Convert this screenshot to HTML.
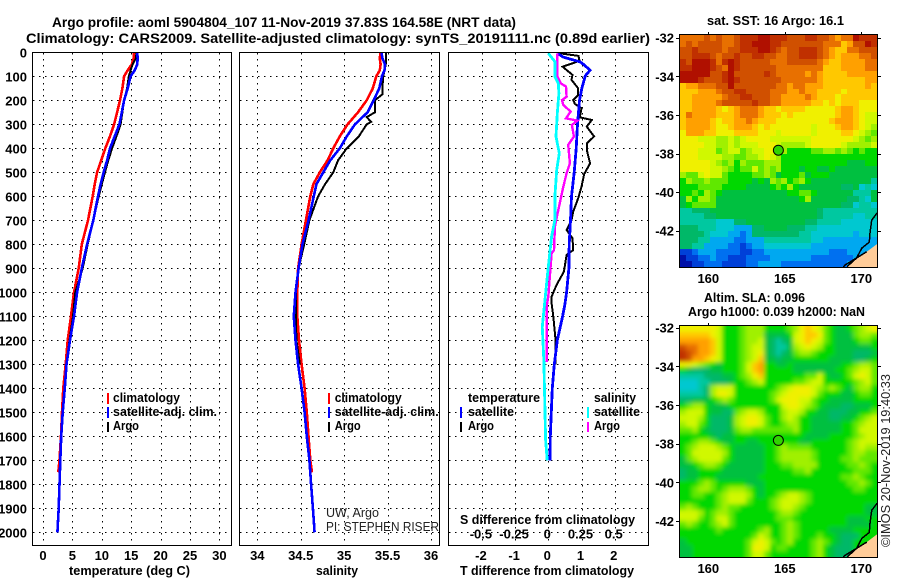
<!DOCTYPE html>
<html lang="en">
<head>
<meta charset="utf-8">
<title>Argo profile</title>
<style>
html,body{margin:0;padding:0;background:#fff;}
svg{display:block;}
text{font-family:"Liberation Sans",sans-serif;fill:#000;}
.b{font-size:13px;font-weight:bold;}
.t{font-size:13.5px;font-weight:bold;}
.r{font-size:12.5px;fill:#222;}
</style>
</head>
<body>
<svg id="chart" width="900" height="580" viewBox="0 0 900 580" xmlns="http://www.w3.org/2000/svg">
<defs>
<filter id="sla-smooth" x="-10%" y="-10%" width="120%" height="120%"><feGaussianBlur stdDeviation="2.2"/></filter>
<clipPath id="sst-map-clip"><rect x="680" y="35" width="197" height="232"/></clipPath>
<clipPath id="sla-map-clip"><rect x="680" y="326" width="197" height="231"/></clipPath>
</defs>
<rect width="900" height="580" fill="#fff"/>
<text class="t" x="52" y="27" textLength="464" lengthAdjust="spacingAndGlyphs">Argo profile: aoml 5904804_107 11-Nov-2019 37.83S 164.58E (NRT data)</text>
<text class="t" x="26" y="43" textLength="624" lengthAdjust="spacingAndGlyphs">Climatology: CARS2009. Satellite-adjusted climatology: synTS_20191111.nc (0.89d earlier)</text>

<g id="grids"></g>
<g id="lines"></g>
<g id="ticks"></g>

<rect x="32.5" y="52.5" width="199" height="493" fill="none" stroke="#000" shape-rendering="crispEdges"/>
<rect x="239.5" y="52.5" width="200" height="493" fill="none" stroke="#000" shape-rendering="crispEdges"/>
<rect x="448.5" y="52.5" width="200" height="493" fill="none" stroke="#000" shape-rendering="crispEdges"/>

<text class="b" x="69" y="575" textLength="121" lengthAdjust="spacingAndGlyphs">temperature (deg C)</text>
<text class="b" x="316" y="575" textLength="42" lengthAdjust="spacingAndGlyphs">salinity</text>
<text class="b" x="460" y="575" textLength="174" lengthAdjust="spacingAndGlyphs">T difference from climatology</text>
<text class="b" x="460" y="524" textLength="175" lengthAdjust="spacingAndGlyphs">S difference from climatology</text>

<g>
<rect x="107" y="393" width="2" height="11" fill="#f00"/>
<text class="b" x="113" y="402" textLength="67" lengthAdjust="spacingAndGlyphs">climatology</text>
<rect x="107" y="407" width="2" height="11" fill="#00f"/>
<text class="b" x="113" y="416" textLength="104" lengthAdjust="spacingAndGlyphs">satellite-adj. clim.</text>
<rect x="107" y="422" width="2" height="10" fill="#000"/>
<text class="b" x="113" y="430" textLength="26" lengthAdjust="spacingAndGlyphs">Argo</text>
</g>
<g>
<rect x="328" y="393" width="2" height="11" fill="#f00"/>
<text class="b" x="334.7" y="402" textLength="67" lengthAdjust="spacingAndGlyphs">climatology</text>
<rect x="328" y="407" width="2" height="11" fill="#00f"/>
<text class="b" x="334.7" y="416" textLength="104" lengthAdjust="spacingAndGlyphs">satellite-adj. clim.</text>
<rect x="328" y="422" width="2" height="10" fill="#000"/>
<text class="b" x="334.7" y="430" textLength="26" lengthAdjust="spacingAndGlyphs">Argo</text>
</g>
<text class="r" x="326" y="517" textLength="53" lengthAdjust="spacingAndGlyphs">UW, Argo</text>
<text class="r" x="326" y="531" textLength="113" lengthAdjust="spacingAndGlyphs">PI: STEPHEN RISER</text>

<g>
<text class="b" x="468" y="402" textLength="72" lengthAdjust="spacingAndGlyphs">temperature</text>
<rect x="460" y="407" width="2" height="11" fill="#00f"/>
<text class="b" x="468" y="416" textLength="46" lengthAdjust="spacingAndGlyphs">satellite</text>
<rect x="460" y="422" width="2" height="10" fill="#000"/>
<text class="b" x="468" y="430" textLength="26" lengthAdjust="spacingAndGlyphs">Argo</text>
<text class="b" x="594" y="402" textLength="42" lengthAdjust="spacingAndGlyphs">salinity</text>
<rect x="587" y="407" width="2" height="11" fill="#0ff"/>
<text class="b" x="594" y="416" textLength="46" lengthAdjust="spacingAndGlyphs">satellite</text>
<rect x="587" y="422" width="2" height="10" fill="#f0f"/>
<text class="b" x="594" y="430" textLength="26" lengthAdjust="spacingAndGlyphs">Argo</text>
</g>

<text class="b" x="707" y="25" textLength="137" lengthAdjust="spacingAndGlyphs">sat. SST: 16 Argo: 16.1</text>
<text class="b" x="704" y="302" textLength="101" lengthAdjust="spacingAndGlyphs">Altim. SLA: 0.096</text>
<text class="b" x="688" y="316" textLength="177" lengthAdjust="spacingAndGlyphs">Argo h1000: 0.039 h2000: NaN</text>
<g id="maps"></g>
<text class="r" transform="translate(890 547) rotate(-90)" x="0" y="0" textLength="173" lengthAdjust="spacingAndGlyphs" style="font-size:13px;">©IMOS 20-Nov-2019 19:40:33</text>
</svg>

<script>
// ---------- profile data ----------
const climDepths = [0,25,50,75,100,150,200,250,300,350,400,450,500,550,600,700,800,900,1000,1100,1200,1300,1400,1500,1600,1700,1750];
const tempClim = [15.5,15.4,15.1,14.4,13.8,13.5,13.1,12.6,12.1,11.4,10.6,9.9,9.2,8.8,8.45,7.65,6.6,6.07,5.27,4.76,4.2,3.86,3.45,3.23,3.06,2.8,2.6];
const salClim = [35.42,35.41,35.42,35.41,35.37,35.33,35.26,35.16,35.04,34.95,34.875,34.81,34.72,34.645,34.61,34.56,34.51,34.47,34.46,34.46,34.48,34.51,34.545,34.57,34.59,34.61,34.63];

const satDepths = [0,25,50,75,100,150,200,250,300,350,400,450,500,550,600,700,800,900,1000,1100,1200,1300,1400,1500,1600,1700,1800,1900,2000];
const tempSat = [16.04,16.08,16.04,15.6,14.9,14.4,13.8,13.4,13,12.2,11.4,10.9,10.3,9.8,9.35,8.55,7.5,6.6,5.8,5.27,4.6,4.0,3.7,3.35,3.1,2.95,2.8,2.67,2.45];
const salSat = [35.43,35.44,35.47,35.465,35.435,35.405,35.34,35.27,35.125,35.03,34.95,34.84,34.76,34.68,34.65,34.59,34.52,34.475,34.44,34.42,34.44,34.47,34.51,34.545,34.57,34.6,34.62,34.64,34.66];

const argoDepths = [0,25,50,75,100,150,200,250,300,350,400,450,500,550,600,700,800,900,1000,1100,1200,1300];
const tempArgo = [15.9,15.8,15.25,14.9,14.6,14.3,13.8,13.5,13.2,12.5,11.75,11.1,10.55,10,9.47,8.55,7.6,6.75,5.5,5.1,4.5,4.0];
const salArgoDepths = [0,50,100,150,175,200,250,270,290,300,350,400,450,500,550,600,700,800,900,1000,1100,1200,1300];
const salArgo = [35.48,35.48,35.45,35.44,35.44,35.355,35.355,35.26,35.31,35.26,35.17,35.03,34.93,34.875,34.78,34.7,34.6,34.54,34.475,34.445,34.445,34.45,34.49];

const diffTempSatDepths = [4,20,40,50,75,90,100,150,200,300,400,500,600,700,800,900,1000,1050,1100,1200,1300,1400,1500,1600,1700];
const diffTempSat = [.27,.45,.96,1.06,1.26,1.16,1.11,1.01,.94,.88,.84,.78,.7,.67,.63,.62,.55,.5,.43,.27,.18,.12,.09,.06,.05];
const diffTempArgoDepths = [4,15,36,60,94,115,150,178,199,215,233,271,282,310,351,379,407,463,507,560,608,664,699,740,775,824,844,914,969,1018,1046,1100,1200,1300];
const diffTempArgo = [.35,.91,.94,.43,.73,.7,.9,.9,.75,.8,1,.95,1.31,1.16,1.38,1.16,1.16,1.26,1.08,1,.9,.75,.7,.55,.73,.75,.55,.47,.25,.1,.1,.15,.22,.22];
const diffSalSatDepths = [4,39,101,129,171,254,351,421,490,601,699,768,851,963,1060,1100,1145,1290,1500,1615,1700];
const diffSalSat = [0,.05,.05,.075,.08,.068,.058,.083,.063,.05,.05,.025,.008,-.013,-.03,-.038,-.045,-.033,-.025,-.02,-.008];
const diffSalArgoDepths = [4,101,129,143,185,199,219,247,275,285,303,351,386,463,504,560,657,726,824,838,1018,1060,1200,1290];
const diffSalArgo = [.068,.068,.093,.133,.138,.103,.113,.168,.133,.218,.178,.193,.15,.163,.138,.113,.075,.05,.043,.025,0,-.013,-.013,-.013];

// ---------- tick labels ----------
const depthTicks = [0,100,200,300,400,500,600,700,800,900,1000,1100,1200,1300,1400,1500,1600,1700,1800,1900,2000];
const tempTicks = [0,5,10,15,20,25,30];
const salTicks = [34,34.5,35,35.5,36];
const diffTTicks = [-2,-1,0,1,2];
const diffSTicks = [-0.5,-0.25,0,0.25,0.5];
const lonTicks = [160,165,170];
const latTicks = [-32,-34,-36,-38,-40,-42];

// ---------- map data (colour level per cell, base-19 code) ----------
const sstRows = [
"ffffgfgffghhhiihhhggghhggfeffihhh",
"fgfggggffghhiiihhgggggggfffdeggih",
"gghggggfgghhhiihgfgghhhgfeddffggg",
"gghhhgfgghgghhggffgghhhgfedeeeffg",
"hgiiihfhihgggggfffgggggfeddeeeeff",
"hhiiihgfihggggggffffffffdddeeeeff",
"iiiiigghiggggghgfffffefeddddeeeee",
"iiihggghihgggggggffffffedddddddee",
"deefffggigggggggffeffeeeddddddded",
"dddeeefgghhggggfffeefeeddddcddddd",
"ddeeeeefgghhgggffeeeefedddcdddddd",
"ddeeeefggggghggffeeeeeddcdcdddccc",
"ddeeeedcdefffeddcddddcccccdeedccc",
"dfeeeedddefffedddcdcccccccdeedcbb",
"deeeedcddeefedddcccccccccdeeedcbb",
"deeeedccdeeedcdcccccccbcccdeedcba",
"ceeeddcccddddcccbcccccbccccddcba9",
"cccbbbaababccccbbbbbbbcccccccba9a",
"ccccbbaababbbcccbaaaabcccccbaaaab",
"cccbbb9abb9abbccba888899aa9a98988",
"cccbbbbaa99aabcba8888888888888888",
"cccccba9a8a999aaa8888888888877788",
"cccccbba9899b9a9a8887887787777777",
"a99bcbb9888899a978889788877777777",
"8a99a9998888787a9a89a877777777775",
"888999988887777898a87777777667454",
"8898a98777777777778899877777755574",
"7a8aa9777777777777778a77777766547",
"789999777777777777777777777664554",
"556667777777777777777776555555555",
"555566777777777777777776555554455",
"555555444667777777777665555444444",
"666555444333667777666554444444444",
"666654443323666666665544444443444",
"666553333223335555555544333333333",
"665533332212334444444433333333333",
"112333222211223333333333322233334",
"011223221112222333333322222223344",
"001122211112233332222222222233444"
];
const slaRows = [
"ccccccb8889aaa88889acdcb987789abc",
"dddddcb8889aaa77778bcddc987779aa9",
"eeeeedb8889aab76567bcdcb987778998",
"gffeedb8889abb76557abcba887777778",
"hgfeedb8889abc765679aa98887776667",
"hgeedcb8889abd7767788888877776678",
"ccba9878889bde8877877777777889aa9",
"87666778889bde888887777777889abb9",
"55556667789acd888888899b87789bcb9",
"444556667889ab8888899abb888889ab9",
"44456abbb88888889abcccba9a9879aa8",
"55556accb8888889abccccb9888778998",
"6677789a98888889bcccbb98877778888",
"89aa8777888888888bccba98777667778",
"abbb877669abba888abba887766677889",
"bbba86667abccb988aba8877766778 9ab".replace(' ',''),
"abb986667abccb9889aa8877777889ab",
"99a8766679aa9999999a8877777889bb",
"888887677888888888888777788889abb",
"889aa987788778888888778888889abb",
"89abbba98777778 89a99998888889aba".replace(' ',''),
"89bbbbba87777788 9aaaaa988888 9aa9".replace(/ /g,''),
"79abbbb987777788 9aaaaa98888 99a99".replace(/ /g,''),
"7789aa98777777888 99aaaa8888899a98".replace(/ /g,''),
"67788887777777888 8899a88888889998".replace(/ /g,''),
"677888777777788888888888888 99a988".replace(/ /g,''),
"8889a9888887778888888888 888899a98".replace(/ /g,''),
"889aa989aaa98788888888888888899888",
"8899889abbba87889abba988888888888",
"8888889abbb98889abbba988888888888",
"9a98889a99888889abba9888888888877",
"bbba89aa988888889aa98888888888877",
"bbb989bb988888889998888888887778",
"9a9889ab9888888889a98888888877778",
"88888898888889a889a98888877778888",
"8888888888889ba889a98889887666888",
"788888888889bcb989a8889a987668888",
"778888888889ccb89988889a876668888",
"778888888889bb988888889a876668888"
];
const coastLons = [171.03,170.68,170.57,170.52,170.03,169.7,168.93,168.82];
const coastLats = [-41.08,-41.45,-42.12,-42.59,-42.9,-43.41,-43.78,-43.9];
const landLons = [171.03,170.35,169.7,169.07,169.07,171.03];
const landLats = [-42.69,-43.09,-43.41,-43.86,-43.9,-43.9];
const landEdgeLons = [170.35,169.7,169.07];
const landEdgeLats = [-43.09,-43.41,-43.86];
const floatLon = 164.58;
const floatLat = -37.83;

// ---------- colour scale ----------
const mapPalette = ["#0010a8","#0040d8","#0070f0","#00a8f0","#00c8d0","#00c8a0","#00b868","#00c040","#00d800","#60e800","#a0f000","#d0f800","#f0f000","#ffc800","#ffa000","#e87000","#d05000","#c03000","#b01000"];

// ---------- axis functions ----------
const depthY = d => 52.3 + d * 0.24;
const tempX = v => 43 + v * 5.88;
const salX = v => 257.3 + (v - 34) * 86.85;
const diffTX = v => 548.3 + v * 33.2;
const diffSX = v => 548.3 + v * 132.8;
const lonX = lon => 708.3 + (lon - 160) * 15.3;
const NS = "http://www.w3.org/2000/svg";
const gridG = document.getElementById('grids');
const lineG = document.getElementById('lines');
const tickG = document.getElementById('ticks');
const mapG = document.getElementById('maps');

function gridLine(x1, y1, x2, y2) {
  const el = document.createElementNS(NS, 'line');
  
  
  el.setAttribute('x1', x1); el.setAttribute('y1', y1);
  el.setAttribute('x2', x2); el.setAttribute('y2', y2);
  el.setAttribute('stroke', '#000');
  el.setAttribute('stroke-dasharray', '1.3 4.7');
  el.setAttribute('shape-rendering', 'crispEdges');
  gridG.appendChild(el);
}
function label(parent, str, x, y, anchor, name) {
  const el = document.createElementNS(NS, 'text');
  
  
  el.setAttribute('class', 'b');
  el.setAttribute('x', x); el.setAttribute('y', y);
  el.setAttribute('text-anchor', anchor);
  el.textContent = str;
  parent.appendChild(el);
}
function profile(depths, values, xf, color, width, name) {
  const el = document.createElementNS(NS, 'polyline');
  
  
  el.setAttribute('points', depths.map((d, i) => xf(values[i]).toFixed(1) + ',' + depthY(d).toFixed(1)).join(' '));
  el.setAttribute('fill', 'none');
  el.setAttribute('stroke', color);
  el.setAttribute('stroke-width', width);
  el.setAttribute('shape-rendering', 'crispEdges');
  lineG.appendChild(el);
}

// grids and tick labels
const panels = [[33, 231], [240, 439], [449, 648]];
panels.forEach(p => depthTicks.forEach(d => gridLine(p[0], Math.round(depthY(d)) + .5, p[1], Math.round(depthY(d)) + .5)));
tempTicks.forEach(v => gridLine(Math.round(tempX(v)) + .5, 53, Math.round(tempX(v)) + .5, 545));
salTicks.forEach(v => gridLine(Math.round(salX(v)) + .5, 53, Math.round(salX(v)) + .5, 545));
diffTTicks.forEach(v => gridLine(Math.round(diffTX(v)) + .5, 53, Math.round(diffTX(v)) + .5, 545));
depthTicks.forEach(d => label(tickG, String(d), 27, depthY(d) + 5, 'end', 'depth-tick-label'));
tempTicks.forEach(v => label(tickG, String(v), tempX(v), 560, 'middle', 'temperature-tick-label'));
salTicks.forEach(v => label(tickG, String(v), salX(v), 560, 'middle', 'salinity-tick-label'));
diffTTicks.forEach(v => label(tickG, String(v), diffTX(v) - 1, 560, 'middle', 't-difference-tick-label'));
diffSTicks.forEach(v => label(tickG, String(v), diffSX(v) - 1, 538.5, 'middle', 's-difference-tick-label'));

// profile lines
profile(climDepths, tempClim, tempX, '#f00', 2.6, 'temperature-climatology-line');
profile(argoDepths, tempArgo, tempX, '#000', 2, 'temperature-argo-line');
profile(satDepths, tempSat, tempX, '#00f', 2.6, 'temperature-satellite-line');
profile(climDepths, salClim, salX, '#f00', 2.6, 'salinity-climatology-line');
profile(salArgoDepths, salArgo, salX, '#000', 2, 'salinity-argo-line');
profile(satDepths, salSat, salX, '#00f', 2.6, 'salinity-satellite-line');
profile(diffTempArgoDepths, diffTempArgo, diffTX, '#000', 2, 't-difference-argo-line');
profile(diffTempSatDepths, diffTempSat, diffTX, '#00f', 2.8, 't-difference-satellite-line');
profile(diffSalArgoDepths, diffSalArgo, diffSX, '#f0f', 2.4, 's-difference-argo-line');
profile(diffSalSatDepths, diffSalSat, diffSX, '#0ff', 2.8, 's-difference-satellite-line');

// maps
function drawMap(rows, top, bottom, lat32Y, scaleY, name, smooth) {
  const left = 680, right = 877;
  const latY = lat => lat32Y + (-32 - lat) * scaleY;
  const nc = 33, nr = rows.length, bleed = 10;
  const clipG = document.createElementNS(NS, 'g');
  
  
  clipG.setAttribute('clip-path', 'url(#' + name + '-clip)');
  const cellG = document.createElementNS(NS, 'g');
  
  
  if (smooth) cellG.setAttribute('filter', 'url(#sla-smooth)');
  clipG.appendChild(cellG);
  mapG.appendChild(clipG);
  rows.forEach((row, r) => {
    const y0 = Math.round(top + (bottom - top) * r / nr) - (r === 0 ? bleed : 0);
    const y1 = Math.round(top + (bottom - top) * (r + 1) / nr) + (r === nr - 1 ? bleed : 0);
    for (let c = 0; c < nc; c++) {
      const code = row[Math.min(c, row.length - 1)];
      const x0 = Math.round(left + (right - left) * c / nc) - (c === 0 ? bleed : 0);
      const x1 = Math.round(left + (right - left) * (c + 1) / nc) + (c === nc - 1 ? bleed : 0);
      const el = document.createElementNS(NS, 'rect');
      
      
      el.setAttribute('x', x0); el.setAttribute('y', y0);
      el.setAttribute('width', x1 - x0); el.setAttribute('height', y1 - y0);
      el.setAttribute('fill', mapPalette[parseInt(code, 19)]);
      el.setAttribute('shape-rendering', 'crispEdges');
      cellG.appendChild(el);
    }
  });
  const land = document.createElementNS(NS, 'polygon');
  
  
  land.setAttribute('points', landLons.map((v, i) => lonX(v).toFixed(1) + ',' + Math.min(bottom, latY(landLats[i])).toFixed(1)).join(' '));
  land.setAttribute('fill', '#ffcc99');
  mapG.appendChild(land);
  const coast = document.createElementNS(NS, 'polyline');
  
  
  coast.setAttribute('points', coastLons.map((v, i) => lonX(v).toFixed(1) + ',' + Math.min(bottom, latY(coastLats[i])).toFixed(1)).join(' '));
  coast.setAttribute('fill', 'none');
  coast.setAttribute('stroke', '#000');
  coast.setAttribute('stroke-width', 1.5);
  coast.setAttribute('shape-rendering', 'crispEdges');
  mapG.appendChild(coast);
  const edge = document.createElementNS(NS, 'polyline');
  
  
  edge.setAttribute('points', landEdgeLons.map((v, i) => lonX(v).toFixed(1) + ',' + Math.min(bottom, latY(landEdgeLats[i])).toFixed(1)).join(' '));
  edge.setAttribute('fill', 'none');
  edge.setAttribute('stroke', '#000');
  edge.setAttribute('stroke-width', 1.5);
  edge.setAttribute('shape-rendering', 'crispEdges');
  mapG.appendChild(edge);
  const frame = document.createElementNS(NS, 'rect');
  
  
  frame.setAttribute('x', left - .5); frame.setAttribute('y', top - .5);
  frame.setAttribute('width', right - left + 1); frame.setAttribute('height', bottom - top + 1);
  frame.setAttribute('fill', 'none');
  frame.setAttribute('stroke', '#000');
  frame.setAttribute('shape-rendering', 'crispEdges');
  mapG.appendChild(frame);
  const dot = document.createElementNS(NS, 'circle');
  
  
  dot.setAttribute('cx', lonX(floatLon)); dot.setAttribute('cy', latY(floatLat));
  dot.setAttribute('r', 5);
  dot.setAttribute('fill', '#30d400');
  dot.setAttribute('stroke', '#000');
  mapG.appendChild(dot);
  latTicks.forEach(lat => {
    const y = Math.round(latY(lat)) + .5;
    [[676, 679], [878, 881]].forEach(s => {
      const t = document.createElementNS(NS, 'line');
      
      
      t.setAttribute('x1', s[0]); t.setAttribute('x2', s[1]);
      t.setAttribute('y1', y); t.setAttribute('y2', y);
      t.setAttribute('stroke', '#000');
      t.setAttribute('shape-rendering', 'crispEdges');
      mapG.appendChild(t);
    });
    label(mapG, String(lat), 674, latY(lat) + 5, 'end', name + '-lat-label');
  });
  lonTicks.forEach(lon => {
    const x = Math.round(lonX(lon)) + .5;
    const t = document.createElementNS(NS, 'line');
    
    
    t.setAttribute('x1', x); t.setAttribute('x2', x);
    t.setAttribute('y1', top - 3); t.setAttribute('y2', top - 1);
    t.setAttribute('stroke', '#000');
    t.setAttribute('shape-rendering', 'crispEdges');
    mapG.appendChild(t);
    label(mapG, String(lon), lonX(lon), bottom + 16, 'middle', name + '-lon-label');
  });
}
drawMap(sstRows, 35, 267, 37.7, 19.3, 'sst-map', false);
drawMap(slaRows, 326, 557, 327.7, 19.33, 'sla-map', true);
</script>
</body>
</html>
